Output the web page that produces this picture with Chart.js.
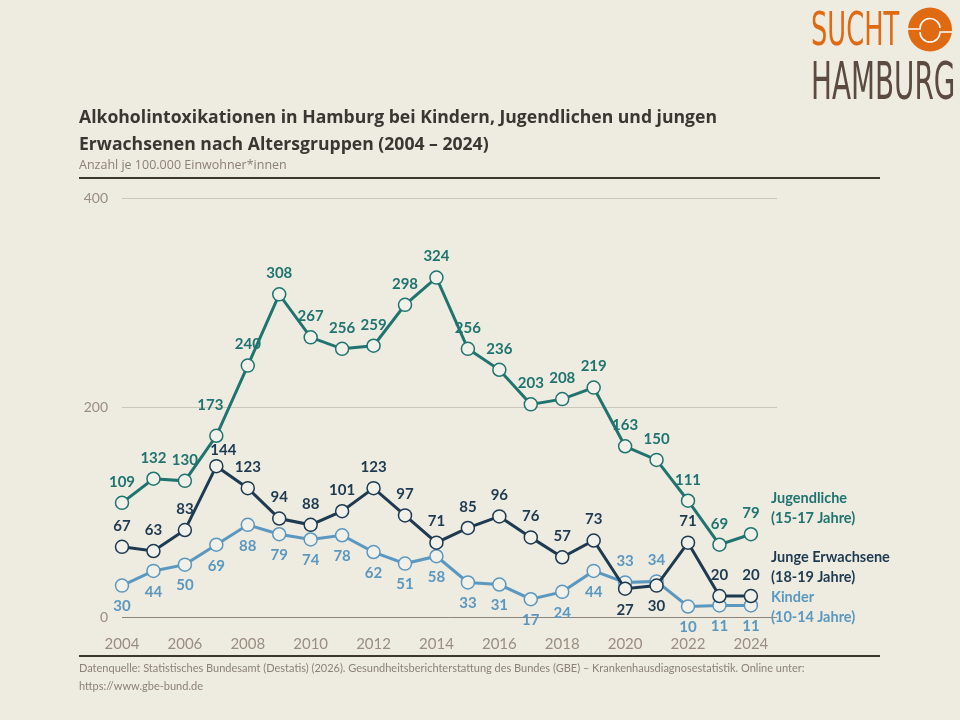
<!DOCTYPE html>
<html lang="de">
<head>
<meta charset="utf-8">
<script src="https://cdn.jsdelivr.net/npm/chart.js@4.4.1/dist/chart.umd.min.js"></script>
<style>
  html, body { margin: 0; padding: 0; background: #eeebe1; }
  #wrap { position: relative; width: 960px; height: 720px; overflow: hidden; background: #eeebe1; }
  #chart { position: absolute; left: 0; top: 0; }
  .title { position: absolute; left: 79px; top: 103px; font: 700 17.6px "Open Sans", sans-serif; color: #3b3631; line-height: 27px; }
  .sub { position: absolute; left: 79px; top: 156px; font: 400 12.5px "Open Sans", sans-serif; color: #8d8079; }
  .rule { position: absolute; left: 79px; width: 801px; background: #3d3830; }
  .foot { position: absolute; left: 79px; top: 659px; width: 760px; font: 400 11px Lato, sans-serif; color: #8c8279; line-height: 18px; }
  .end { position: absolute; left: 771px; font: 700 14.5px Lato, sans-serif; line-height: 20px; }
  .logo { position: absolute; font-family: "DejaVu Sans", sans-serif; transform-origin: left top; line-height: 1; }
</style>
</head>
<body>
<div id="wrap">
  <canvas id="chart" width="960" height="720"></canvas>

  <div class="logo" style="left:811px; top:6px; font-size:46px; color:#e06a12; transform:scaleX(0.56);">SUCHT</div>
  <svg style="position:absolute; left:907px; top:7px;" width="46" height="46" viewBox="0 0 46 46">
    <circle cx="23" cy="22.5" r="22" fill="#e06a12"/>
    <path d="M1 22 H13 A10 10 0 0 1 33 21" fill="none" stroke="#fff" stroke-width="1.6"/>
    <path d="M13 25 A10 10 0 0 0 33 25 H45" fill="none" stroke="#fff" stroke-width="1.6"/>
  </svg>
  <div class="logo" style="left:811px; top:55px; font-size:52px; color:#5b4a3f; transform:scaleX(0.535);">HAMBURG</div>

  <div class="title">Alkoholintoxikationen in Hamburg bei Kindern, Jugendlichen und jungen<br>Erwachsenen nach Altersgruppen (2004 – 2024)</div>
  <div class="sub">Anzahl je 100.000 Einwohner*innen</div>
  <div class="rule" style="top:177px; height:2px;"></div>
  <div class="rule" style="top:655px; height:1.5px;"></div>
  <div class="foot">Datenquelle: Statistisches Bundesamt (Destatis) (2026). Gesundheitsberichterstattung des Bundes (GBE) – Krankenhausdiagnosestatistik. Online unter:<br>https://www.gbe-bund.de</div>

  <div class="end" style="top:488px; color:#1f7470;">Jugendliche<br>(15-17 Jahre)</div>
  <div class="end" style="top:547px; color:#1d3a50;">Junge Erwachsene<br>(18-19 Jahre)</div>
  <div class="end" style="top:587px; color:#5b98c0;">Kinder<br>(10-14 Jahre)</div>
</div>

<script>
// Jahre und Werte (je 100.000 Einwohner*innen)
const years = [2004,2005,2006,2007,2008,2009,2010,2011,2012,2013,2014,2015,2016,2017,2018,2019,2020,2021,2022,2023,2024];
const jugendliche = [109,132,130,173,240,308,267,256,259,298,324,256,236,203,208,219,163,150,111,69,79];
const jungeErwachsene = [67,63,83,144,123,94,88,101,123,97,71,85,96,76,57,73,27,30,71,20,20];
const kinder = [30,44,50,69,88,79,74,78,62,51,58,33,31,17,24,44,33,34,10,11,11];
const xTicks = [2004,2006,2008,2010,2012,2014,2016,2018,2020,2022,2024];
const yTicks = [0,200,400];

// label above (a) or below (b) the point
const posJug = years.map(() => 'a');
const posJE = years.map((y) => (y === 2020 || y === 2021) ? 'b' : 'a');
const posKi = years.map((y) => (y === 2020 || y === 2021) ? 'a' : 'b');
// a few hand nudges where labels would collide (index -> [dx, dy])
const nudgeJug = { 3: [-6, -31] };
const nudgeJE = { 3: [7, -16] };

const toXY = (arr) => arr.map((v, i) => ({ x: years[i], y: v }));

function series(label, values, color, pos, nudge) {
  return {
    label: label,
    data: toXY(values),
    borderColor: color,
    backgroundColor: '#f1f1ea',
    pointBackgroundColor: '#f1f1ea',
    pointBorderColor: color,
    pointBorderWidth: 1.5,
    pointRadius: 6.5,
    borderWidth: 3,
    tension: 0,
    clip: false,
    labelPos: pos,
    labelNudge: nudge || {},
    labelColor: color
  };
}

const valueLabels = {
  id: 'valueLabels',
  afterDatasetsDraw(chart) {
    const ctx = chart.ctx;
    ctx.save();
    ctx.font = '700 15px Lato, sans-serif';
    ctx.textAlign = 'center';
    ctx.textBaseline = 'middle';
    chart.data.datasets.forEach((ds, di) => {
      const meta = chart.getDatasetMeta(di);
      ctx.fillStyle = ds.labelColor;
      meta.data.forEach((pt, i) => {
        let dx = 0;
        let dy = ds.labelPos[i] === 'a' ? -21 : 21;
        if (ds.labelNudge[i]) { dx = ds.labelNudge[i][0]; dy = ds.labelNudge[i][1]; }
        ctx.fillText(String(ds.data[i].y), pt.x + dx, pt.y + dy);
      });
    });
    ctx.restore();
  }
};

new Chart(document.getElementById('chart'), {
  type: 'line',
  data: {
    datasets: [
      series('Jugendliche (15-17 Jahre)', jugendliche, '#1f7470', posJug, nudgeJug),
      series('Junge Erwachsene (18-19 Jahre)', jungeErwachsene, '#1d3a50', posJE, nudgeJE),
      series('Kinder (10-14 Jahre)', kinder, '#5b98c0', posKi)
    ]
  },
  options: {
    responsive: false,
    animation: false,
    devicePixelRatio: 1,
    layout: { padding: { left: 0, top: 198, right: 183, bottom: 0 } },
    plugins: { legend: { display: false }, tooltip: { enabled: false } },
    scales: {
      x: {
        type: 'linear',
        min: 2004,
        max: 2024.83,
        afterBuildTicks: (axis) => { axis.ticks = xTicks.map(v => ({ value: v })); },
        afterFit: (axis) => { axis.height = 103; },
        grid: { display: false },
        border: { display: false },
        ticks: {
          padding: 10,
          color: '#9a8d83',
          font: { family: 'Lato', size: 15 },
          maxRotation: 0,
          callback: (v) => String(v)
        }
      },
      y: {
        min: 0,
        max: 400,
        afterBuildTicks: (axis) => { axis.ticks = yTicks.map(v => ({ value: v })); },
        afterFit: (axis) => { axis.width = 122; },
        grid: {
          drawTicks: false,
          lineWidth: 1,
          color: (c) => c.tick && c.tick.value === 0 ? '#8e847b' : '#cbc5ba'
        },
        border: { display: false },
        ticks: {
          padding: 14,
          color: '#9a8d83',
          font: { family: 'Lato', size: 14 }
        }
      }
    }
  },
  plugins: [valueLabels]
});
</script>
</body>
</html>
